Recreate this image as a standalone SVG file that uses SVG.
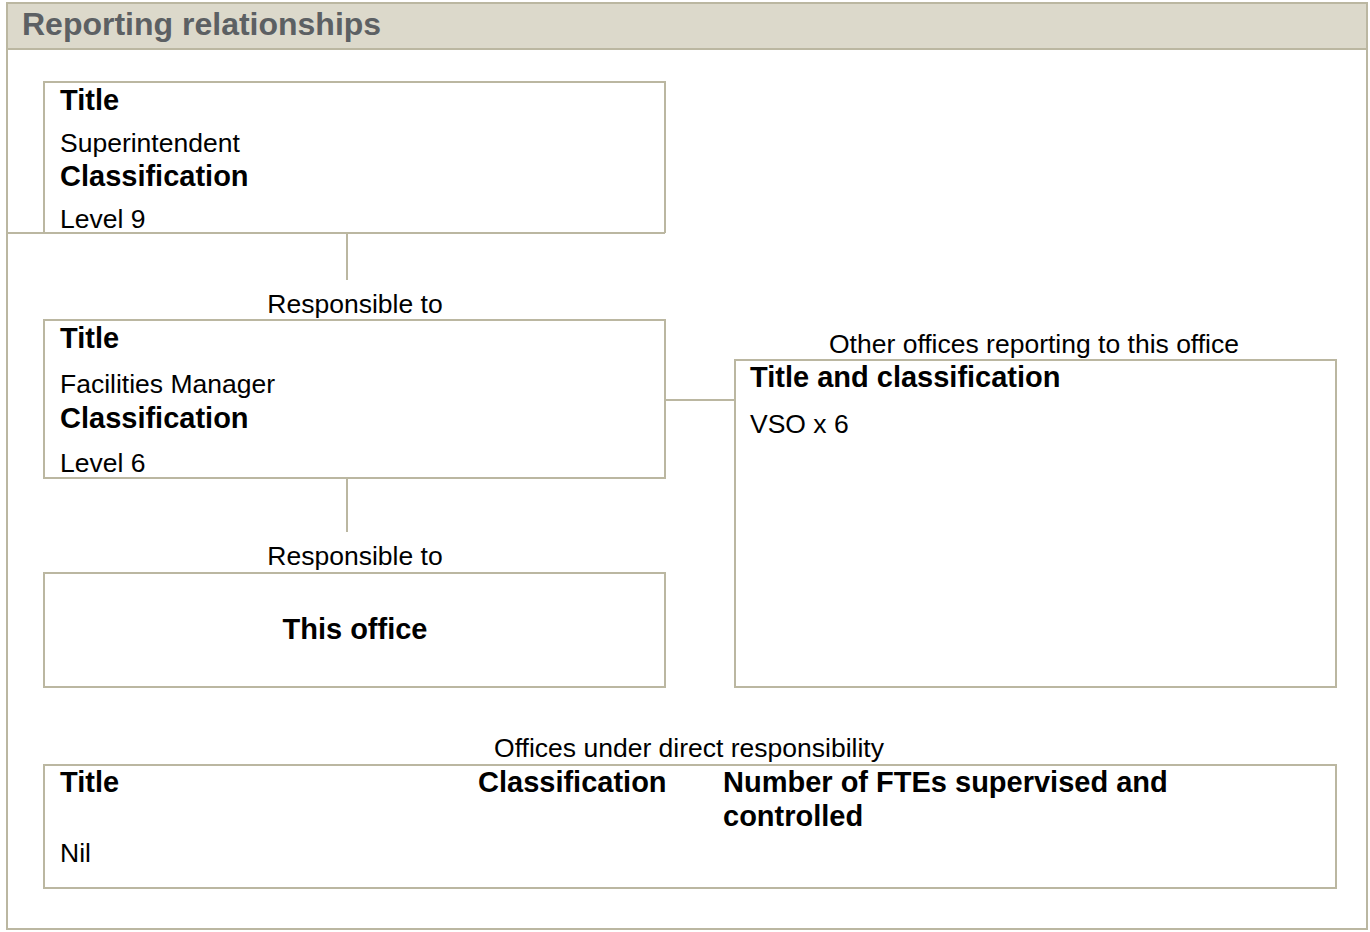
<svg xmlns="http://www.w3.org/2000/svg" width="1370" height="932" viewBox="0 0 1370 932">
<style>
.ln{stroke:#bbb7a1;stroke-width:2;fill:none}
.bx{stroke:#bbb7a1;stroke-width:2;fill:#ffffff}
.t{font-family:"Liberation Sans",Arial,sans-serif;fill:#000}
.b{font-weight:bold;font-size:29px}
.r{font-size:26.5px}
.c{text-anchor:middle}
</style>
<rect x="0" y="0" width="1370" height="932" fill="#ffffff"/>
<g id="frame">
<rect x="7" y="3" width="1360" height="926" class="bx"/>
<rect x="7" y="3" width="1360" height="46" fill="#dcd9cb" stroke="#bbb7a1" stroke-width="2"/>
<text x="22" y="35" font-family="Liberation Sans,Arial,sans-serif" font-weight="bold" font-size="32" fill="#5c6063">Reporting relationships</text>
</g>
<g id="connectors">
<line x1="7" y1="233" x2="665" y2="233" class="ln"/>
<line x1="347" y1="233" x2="347" y2="280" class="ln"/>
<line x1="347" y1="478" x2="347" y2="532" class="ln"/>
<line x1="665" y1="400" x2="735" y2="400" class="ln"/>
</g>
<g id="superintendent">
<path d="M44 233 V82 H665 V233" class="ln"/>
<text x="60" y="110" class="t b">Title</text>
<text x="60" y="152" class="t r">Superintendent</text>
<text x="60" y="186" class="t b">Classification</text>
<text x="60" y="228" class="t r">Level 9</text>
</g>
<g id="facilities-manager">
<text x="355" y="313" class="t r c">Responsible to</text>
<rect x="44" y="320" width="621" height="158" class="bx"/>
<text x="60" y="348" class="t b">Title</text>
<text x="60" y="393" class="t r">Facilities Manager</text>
<text x="60" y="428" class="t b">Classification</text>
<text x="60" y="472" class="t r">Level 6</text>
</g>
<g id="this-office">
<text x="355" y="565" class="t r c">Responsible to</text>
<rect x="44" y="573" width="621" height="114" class="bx"/>
<text x="355" y="639" class="t b c">This office</text>
</g>
<g id="other-offices">
<text x="1034" y="353" class="t r c">Other offices reporting to this office</text>
<rect x="735" y="360" width="601" height="327" class="bx"/>
<text x="750" y="387" class="t b">Title and classification</text>
<text x="750" y="433" class="t r">VSO x 6</text>
</g>
<g id="direct-responsibility">
<text x="689" y="757" class="t r c">Offices under direct responsibility</text>
<rect x="44" y="765" width="1292" height="123" class="bx"/>
<text x="60" y="792" class="t b">Title</text>
<text x="478" y="792" class="t b">Classification</text>
<text x="723" y="792" class="t b">Number of FTEs supervised and</text>
<text x="723" y="826" class="t b">controlled</text>
<text x="60" y="862" class="t r">Nil</text>
</g>
</svg>
